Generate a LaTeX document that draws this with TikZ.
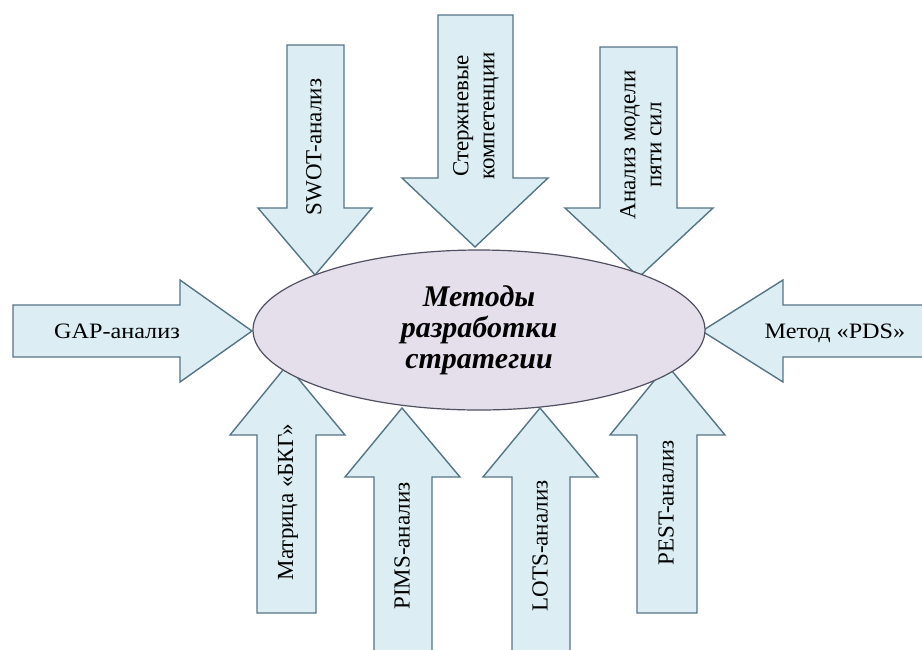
\documentclass[tikz,border=0pt]{standalone}
\usepackage{fontspec}
\setmainfont{Liberation Serif}
\usetikzlibrary{shapes.geometric}
\definecolor{arrowfill}{HTML}{DCEEF3}
\definecolor{arrowline}{HTML}{557585}
\definecolor{ellfill}{HTML}{E5DFEC}
\definecolor{ellline}{HTML}{505060}
\begin{document}
\begin{tikzpicture}[x=1pt,y=-1pt,
  blockarrow/.style={fill=arrowfill,draw=arrowline,line width=1.4pt,line join=miter},
  lbl/.style={font=\fontsize{22}{23}\selectfont,align=center,inner sep=0pt},
  vlbl/.style={lbl,font=\fontsize{23}{26}\selectfont,rotate=90},
  hub/.style={ellipse,fill=ellfill,draw=ellline,line width=1.2pt,minimum width=452pt,minimum height=160pt,inner sep=0pt,align=center,font=\fontsize{30}{31}\selectfont\bfseries\itshape}]
\useasboundingbox (0,0) rectangle (922,649);
% top arrows
\draw[blockarrow] (287,45)--(344,45)--(344,208)--(372,208)--(315,275)--(258,208)--(287,208)--cycle;
\draw[blockarrow] (438,15)--(513,15)--(513,178)--(548,178)--(475,247)--(402,178)--(438,178)--cycle;
\draw[blockarrow] (600,47)--(677,47)--(677,208)--(713,208)--(639,277)--(565,208)--(600,208)--cycle;
% side arrows
\draw[blockarrow] (13,305)--(180,305)--(180,280)--(252,331)--(180,382)--(180,357)--(13,357)--cycle;
\draw[blockarrow] (930,305)--(783,305)--(783,280)--(702,331)--(783,382)--(783,357)--(930,357)--cycle;
% bottom arrows
\draw[blockarrow] (257,613)--(316,613)--(316,435)--(345,435)--(287,365)--(230,435)--(257,435)--cycle;
\draw[blockarrow] (374,660)--(432,660)--(432,477)--(460,477)--(402,408)--(345,477)--(374,477)--cycle;
\draw[blockarrow] (512,660)--(570,660)--(570,477)--(598,477)--(540,408)--(483,477)--(512,477)--cycle;
\draw[blockarrow] (637,613)--(697,613)--(697,435)--(725,435)--(667,365)--(610,435)--(637,435)--cycle;
% central ellipse
\node[hub] (hub) at (479,330) {Методы\\разработки\\стратегии};
% labels
\node[vlbl] (swot) at (314,147) {SWOT-анализ};
\node[vlbl] (core) at (476,116) {Стержневые\\компетенции};
\node[vlbl] (five) at (641,145) {Анализ модели\\пяти сил};
\node[lbl] (gap) at (117,331) {\scalebox{1.1}[1]{GAP-анализ}};
\node[lbl] (pds) at (835,333) {\scalebox{1.1}[1]{Метод «PDS»}};
\node[vlbl] (bkg) at (288,502) {Матрица «БКГ»};
\node[vlbl] (pims) at (402,546) {PIMS-анализ};
\node[vlbl] (lots) at (540,546) {LOTS-анализ};
\node[vlbl] (pest) at (666,503) {PEST-анализ};
\end{tikzpicture}
\end{document}
